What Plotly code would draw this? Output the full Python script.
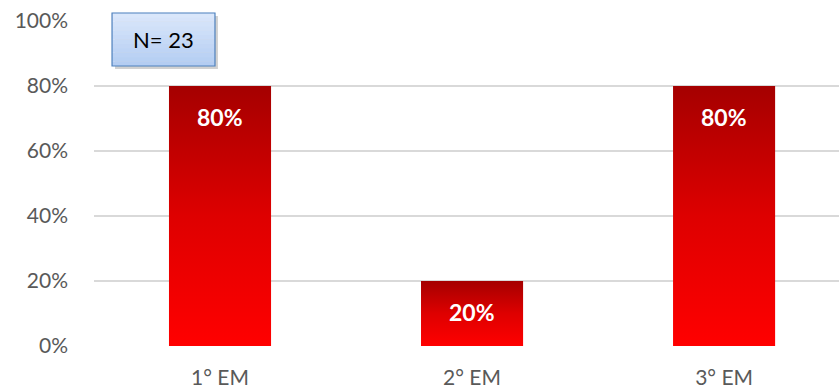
import plotly.graph_objects as go

categories = ["1° EM", "2° EM", "3° EM"]
values = [0.80, 0.20, 0.80]
labels = ["80%", "20%", "80%"]
y_ticks = [0, 0.2, 0.4, 0.6, 0.8, 1.0]
y_tick_labels = ["0%", "20%", "40%", "60%", "80%", "100%"]
n_text = "N= 23"

bar_width = 0.405
FONT = "Lato"

fig = go.Figure()
for i, (cat, v, lab) in enumerate(zip(categories, values, labels)):
    x0, x1 = i - bar_width / 2, i + bar_width / 2
    fig.add_trace(go.Scatter(
        x=[x0, x1, x1, x0, x0], y=[0, 0, v, v, 0],
        mode="lines", line=dict(width=0), fill="toself",
        fillgradient=dict(type="vertical",
                          colorscale=[[0, "rgb(255,0,0)"], [0.5, "rgb(222,0,0)"], [1, "rgb(165,0,0)"]]),
        hoverinfo="skip", showlegend=False))
    fig.add_annotation(x=i, y=v, xref="x", yref="y", text="<b>%s</b>" % lab,
                       showarrow=False, yanchor="top", yshift=-15,
                       font=dict(family=FONT, size=23, color="white"))

# N box with shadow and soft vertical gradient
bx0, bx1, by0, by1 = 0.0242, 0.1624, 0.8615, 1.0246
fig.add_shape(type="rect", xref="paper", yref="paper",
              x0=bx0 + 0.004, x1=bx1 + 0.004, y0=by0 - 0.0095, y1=by1 - 0.0095,
              fillcolor="rgba(0,0,0,0.18)", line=dict(width=0), layer="above")
nb = 12
top_c, bot_c = (220, 232, 251), (178, 204, 242)
for k in range(nb):
    t = (k + 0.5) / nb
    c = tuple(round(bot_c[j] + (top_c[j] - bot_c[j]) * t) for j in range(3))
    fig.add_shape(type="rect", xref="paper", yref="paper",
                  x0=bx0, x1=bx1, y0=by0 + (by1 - by0) * k / nb, y1=by0 + (by1 - by0) * (k + 1) / nb + 0.001,
                  fillcolor="rgb(%d,%d,%d)" % c, line=dict(width=0), layer="above")
fig.add_shape(type="rect", xref="paper", yref="paper",
              x0=bx0, x1=bx1, y0=by0, y1=by1,
              fillcolor="rgba(0,0,0,0)", line=dict(color="#4f81bd", width=1.2), layer="above")
fig.add_annotation(xref="paper", yref="paper", x=(bx0 + bx1) / 2, y=(by0 + by1) / 2,
                   text=n_text, showarrow=False, xanchor="center", yanchor="middle",
                   font=dict(family=FONT, size=22, color="black"))

fig.update_layout(
    width=839, height=388,
    margin=dict(l=94, r=0, t=21, b=42),
    plot_bgcolor="white", paper_bgcolor="white",
    xaxis=dict(range=[-0.5, 2.456], tickvals=list(range(len(categories))), ticktext=categories,
               showgrid=False, zeroline=False, showline=False, ticklabelstandoff=17,
               tickfont=dict(family=FONT, size=21, color="#595959")),
    yaxis=dict(range=[0, 1.0], tickvals=y_ticks, ticktext=y_tick_labels,
               showgrid=True, gridcolor="#d9d9d9", gridwidth=1.8, zeroline=False,
               showline=False, ticks="", ticklabelstandoff=25,
               tickfont=dict(family=FONT, size=21, color="#595959")),
)
fig.write_html("out.html", config={"displayModeBar": False},
               post_script="document.body.style.margin='0';document.body.style.overflow='hidden';")
